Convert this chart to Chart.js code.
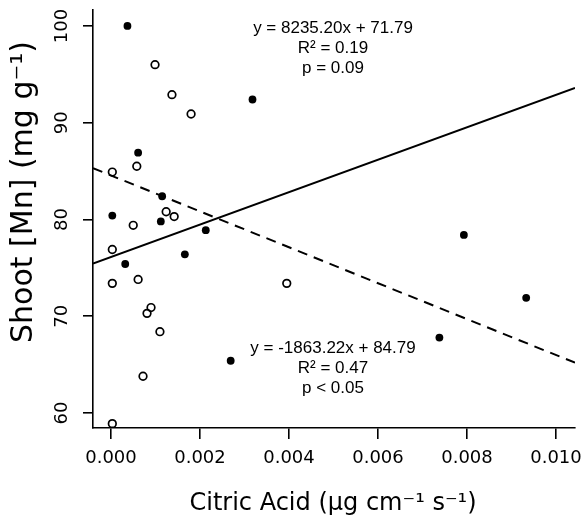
<!DOCTYPE html>
<html>
<head>
<meta charset="utf-8">
<script src="https://cdn.jsdelivr.net/npm/chart.js@4.4.0/dist/chart.umd.min.js"></script>
<style>
  html, body { margin: 0; padding: 0; background: #fff; }
</style>
</head>
<body>
<canvas id="chart" width="583" height="515"></canvas>
<script>
// filled points (one group)
const filledX = [0.00037, 0.00318, 0.00061, 0.00115, 0.00003, 0.00112, 0.00213, 0.00166, 0.00032, 0.00269, 0.00793, 0.00933, 0.00738];
const filledY = [100.0, 92.4, 86.9, 82.4, 80.4, 79.8, 78.9, 76.4, 75.4, 65.4, 78.4, 71.9, 67.8];

// open points (other group)
const openX = [0.00099, 0.00137, 0.0018, 0.00058, 0.00003, 0.00124, 0.00142, 0.0005, 0.00003, 0.00061, 0.00003, 0.00395, 0.0009, 0.00081, 0.0011, 0.00072, 0.00003];
const openY = [96.0, 92.9, 90.9, 85.5, 84.9, 80.8, 80.3, 79.4, 76.9, 73.8, 73.4, 73.4, 70.9, 70.3, 68.4, 63.8, 58.9];

// fitted lines, read at the plot edges
const solidFitX = [-0.000404, 0.010427];
const solidFitY = [75.45, 93.6];
const dashedFitX = [-0.000404, 0.010427];
const dashedFitY = [85.3, 65.2];

// axis ticks
const xTicks = [0, 0.002, 0.004, 0.006, 0.008, 0.010];
const yTicks = [60, 70, 80, 90, 100];

// text
const xTitle = 'Citric Acid (\u00b5g cm\u207b\u00b9 s\u207b\u00b9)';
const yTitle = 'Shoot [Mn] (mg g\u207b\u00b9)';
const topNote = ['y = 8235.20x + 71.79', 'R\u00b2 = 0.19', 'p = 0.09'];
const bottomNote = ['y = -1863.22x + 84.79', 'R\u00b2 = 0.47', 'p < 0.05'];

function toPoints(xs, ys) {
    return xs.map((x, i) => ({ x: x, y: ys[i] }));
}

// draws the rotated y labels, axis titles and the two notes
const textPlugin = {
    id: 'textPlugin',
    afterDraw(chart) {
        const ctx = chart.ctx;
        const yScale = chart.scales.y;
        ctx.save();
        ctx.fillStyle = '#000';

        // y tick labels, parallel to axis
        ctx.font = '18px "DejaVu Sans"';
        ctx.textAlign = 'center';
        ctx.textBaseline = 'alphabetic';
        yTicks.forEach(v => {
            ctx.save();
            ctx.translate(67, yScale.getPixelForValue(v));
            ctx.rotate(-Math.PI / 2);
            ctx.fillText(String(v), 0, 0);
            ctx.restore();
        });

        // y title
        ctx.save();
        ctx.font = '30px "DejaVu Sans"';
        ctx.translate(32, 192);
        ctx.rotate(-Math.PI / 2);
        ctx.fillText(yTitle, 0, 0);
        ctx.restore();

        // x title
        ctx.font = '24px "DejaVu Sans"';
        ctx.fillText(xTitle, 333, 510);

        // notes
        ctx.font = '17px "Liberation Sans"';
        topNote.forEach((t, i) => ctx.fillText(t, 333, 33 + i * 20));
        bottomNote.forEach((t, i) => ctx.fillText(t, 333, 353 + i * 20));

        ctx.restore();
    }
};

new Chart(document.getElementById('chart'), {
    type: 'scatter',
    data: {
        datasets: [
            {
                label: 'solid fit',
                data: toPoints(solidFitX, solidFitY),
                showLine: true,
                borderColor: '#000',
                borderWidth: 2,
                pointRadius: 0,
                order: 0
            },
            {
                label: 'dashed fit',
                data: toPoints(dashedFitX, dashedFitY),
                showLine: true,
                borderColor: '#000',
                borderWidth: 2,
                borderDash: [10, 7],
                pointRadius: 0,
                order: 0
            },
            {
                label: 'filled',
                data: toPoints(filledX, filledY),
                backgroundColor: '#000',
                borderColor: '#000',
                borderWidth: 0,
                pointRadius: 3.9,
                order: 1
            },
            {
                label: 'open',
                data: toPoints(openX, openY),
                backgroundColor: 'rgba(0,0,0,0)',
                borderColor: '#000',
                borderWidth: 1.7,
                pointRadius: 3.8,
                order: 1
            }
        ]
    },
    options: {
        responsive: false,
        animation: false,
        layout: {
            padding: { left: 83, right: 8, top: 10, bottom: 0 }
        },
        plugins: {
            legend: { display: false },
            tooltip: { enabled: false }
        },
        scales: {
            x: {
                type: 'linear',
                min: -0.000404,
                max: 0.010427,
                afterBuildTicks: axis => { axis.ticks = xTicks.map(v => ({ value: v })); },
                afterFit: axis => {
                    axis.height = 87;
                    axis.paddingLeft = 0;
                    axis.paddingRight = 0;
                },
                grid: {
                    display: true,
                    drawOnChartArea: false,
                    drawTicks: true,
                    tickLength: 11,
                    color: '#000',
                    lineWidth: 1.6
                },
                border: { display: true, color: '#000', width: 1.6 },
                ticks: {
                    color: '#000',
                    padding: 9,
                    maxRotation: 0,
                    font: { family: 'DejaVu Sans', size: 18 },
                    callback: v => v.toFixed(3)
                }
            },
            y: {
                type: 'linear',
                min: 58.45,
                max: 101.65,
                afterBuildTicks: axis => { axis.ticks = yTicks.map(v => ({ value: v })); },
                afterFit: axis => {
                    axis.width = 10;
                    axis.paddingTop = 0;
                    axis.paddingBottom = 0;
                },
                grid: {
                    display: true,
                    drawOnChartArea: false,
                    drawTicks: true,
                    tickLength: 10,
                    color: '#000',
                    lineWidth: 1.6
                },
                border: { display: true, color: '#000', width: 1.6 },
                ticks: { display: false }
            }
        }
    },
    plugins: [textPlugin]
});
</script>
</body>
</html>
